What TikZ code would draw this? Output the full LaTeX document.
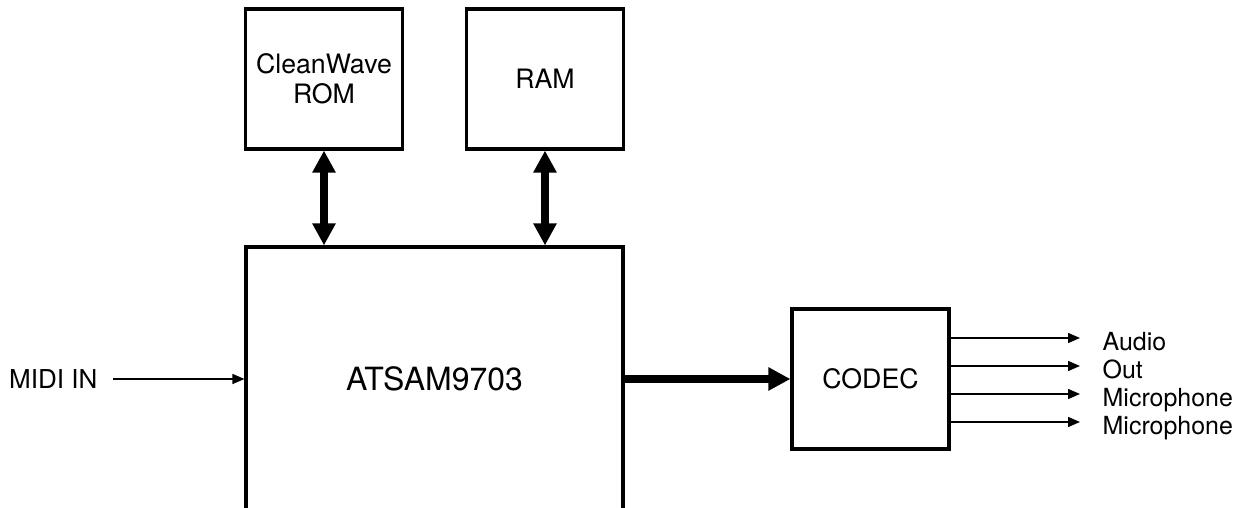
\documentclass[tikz,border=0pt]{standalone}
\usepackage{fontspec}
\setmainfont{TeX Gyre Heros}
\usetikzlibrary{arrows.meta}

\begin{document}
\begin{tikzpicture}[
	 box/.style = {draw, line width = 0.9 pt, minimum width = 1.57 cm, minimum height = 1.40 cm, align = center, inner sep = 0 pt, font = \fontsize{7.6}{8.5}\selectfont},
	 bus/.style = {line width = 2 pt, {Triangle[length=0.22cm, width=0.22cm]}-{Triangle[length=0.22cm, width=0.22cm]}},
	 feed/.style = {line width = 2 pt, -{Triangle[length=0.22cm, width=0.22cm]}},
	 sig/.style = {line width = 0.4 pt, -{Triangle[length=0.12cm, width=0.10cm]}},
	 lbl/.style = {anchor = west, inner xsep = 0.22 cm, inner ysep = 0 pt, text height = 0.72 em, text depth = 0 pt, font = \fontsize{7.1}{8}\selectfont}
	 ]
	 \useasboundingbox (0, 0) rectangle (12.49, 5.08);
	 
	 \node[box] (rom) at (3.24, 4.29) {CleanWave\\ROM};
	 \node[box, text height = 0.72 em, text depth = 0.06 cm] (ram) at (5.45, 4.29) {RAM};
	 \node[box, minimum width = 3.77 cm, minimum height = 2.64 cm, font = \fontsize{9.1}{10}\selectfont] (dsp) at (4.345, 1.29) {ATSAM9703};
	 \node[box] (codec) at (8.705, 1.29) {CODEC};
	 \node[anchor = east, inner xsep = 0.15 cm, inner ysep = 0 pt, font = \fontsize{7.4}{8.5}\selectfont] (midi) at (1.13, 1.29) {MIDI IN};
	 
	 \node[lbl] (out1) at (10.80, 1.70) {Audio};
	 \node[lbl] (out2) at (10.80, 1.42) {Out};
	 \node[lbl] (out3) at (10.80, 1.14) {Microphone};
	 \node[lbl] (out4) at (10.80, 0.86) {Microphone};
	 
	 \draw[bus] (rom.south) -- (rom.south |- dsp.north);
	 \draw[bus] (ram.south) -- (ram.south |- dsp.north);
	 \draw[feed] (dsp.east) -- (codec.west);
	 \draw[sig] (midi.east) -- (dsp.west);
	 \foreach \o in {out1, out2, out3, out4}
	 \draw[sig] (codec.east |- \o.west) -- (\o.west);
\end{tikzpicture}
\end{document}
